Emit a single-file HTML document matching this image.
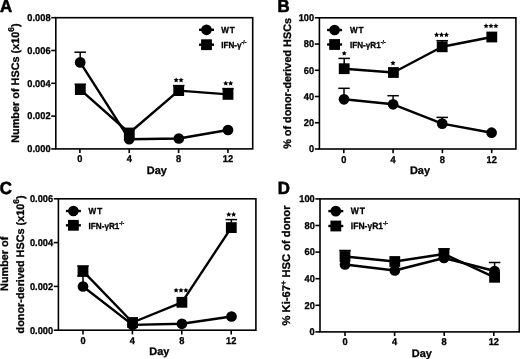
<!DOCTYPE html>
<html><head><meta charset="utf-8"><style>
html,body{margin:0;padding:0;background:#fff;overflow:hidden;}
svg{display:block;filter:blur(0.3px);}
text{stroke:#000;stroke-width:0.3;paint-order:stroke;}
</style></head><body>
<svg width="520" height="359" viewBox="0 0 520 359" font-family='"Liberation Sans", sans-serif' font-weight="bold" fill="#000">
<rect width="520" height="359" fill="#fff"/>
<rect x="55.8" y="17.7" width="196.9" height="131.2" fill="none" stroke="#000" stroke-width="1.6"/><line x1="51.2" y1="148.9" x2="55.8" y2="148.9" stroke="#000" stroke-width="1.6"/><text transform="translate(50.6,152.2) scale(0.94,1) skewX(0.3)" text-anchor="end" font-size="9.9">0.000</text><line x1="51.2" y1="116.1" x2="55.8" y2="116.1" stroke="#000" stroke-width="1.6"/><text transform="translate(50.6,119.4) scale(0.94,1) skewX(0.3)" text-anchor="end" font-size="9.9">0.002</text><line x1="51.2" y1="83.3" x2="55.8" y2="83.3" stroke="#000" stroke-width="1.6"/><text transform="translate(50.6,86.6) scale(0.94,1) skewX(0.3)" text-anchor="end" font-size="9.9">0.004</text><line x1="51.2" y1="50.5" x2="55.8" y2="50.5" stroke="#000" stroke-width="1.6"/><text transform="translate(50.6,53.8) scale(0.94,1) skewX(0.3)" text-anchor="end" font-size="9.9">0.006</text><line x1="51.2" y1="17.7" x2="55.8" y2="17.7" stroke="#000" stroke-width="1.6"/><text transform="translate(50.6,21.0) scale(0.94,1) skewX(0.3)" text-anchor="end" font-size="9.9">0.008</text><line x1="79.9" y1="148.9" x2="79.9" y2="153.1" stroke="#000" stroke-width="1.6"/><text transform="translate(79.9,162.4) scale(0.94,1) skewX(0.3)" text-anchor="middle" font-size="9.9">0</text><line x1="129.25" y1="148.9" x2="129.25" y2="153.1" stroke="#000" stroke-width="1.6"/><text transform="translate(129.25,162.4) scale(0.94,1) skewX(0.3)" text-anchor="middle" font-size="9.9">4</text><line x1="178.6" y1="148.9" x2="178.6" y2="153.1" stroke="#000" stroke-width="1.6"/><text transform="translate(178.6,162.4) scale(0.94,1) skewX(0.3)" text-anchor="middle" font-size="9.9">8</text><line x1="227.95" y1="148.9" x2="227.95" y2="153.1" stroke="#000" stroke-width="1.6"/><text transform="translate(227.95,162.4) scale(0.94,1) skewX(0.3)" text-anchor="middle" font-size="9.9">12</text><text transform="translate(156.9,174.0) skewX(0.3)" text-anchor="middle" font-size="11">Day</text><text transform="translate(0.0,12.1) scale(0.96,1) skewX(0.3)" style="stroke-width:0.6" font-size="17.6">A</text><text transform="translate(18.8,83.1) rotate(-90) skewX(0.3)" text-anchor="middle" font-size="10.87">Number of HSCs (x10<tspan dy="-5.2" font-size="8.4">6</tspan><tspan dy="5.2">)</tspan></text><polyline points="80.2,62.4 129.2,139.2 178.8,138.5 228,130" fill="none" stroke="#000" stroke-width="2.4" stroke-linejoin="round"/><polyline points="80.3,89.6 129.3,133 178.7,90.6 228,94.4" fill="none" stroke="#000" stroke-width="2.4" stroke-linejoin="round"/><line x1="80.2" y1="62.4" x2="80.2" y2="52.2" stroke="#000" stroke-width="1.5"/><line x1="74.45" y1="52.2" x2="85.95" y2="52.2" stroke="#000" stroke-width="1.5"/><line x1="80.3" y1="89.6" x2="80.3" y2="84.2" stroke="#000" stroke-width="1.5"/><line x1="74.55" y1="84.2" x2="86.05" y2="84.2" stroke="#000" stroke-width="1.5"/><line x1="178.7" y1="90.6" x2="178.7" y2="85.6" stroke="#000" stroke-width="1.5"/><line x1="172.95" y1="85.6" x2="184.45" y2="85.6" stroke="#000" stroke-width="1.5"/><line x1="228" y1="94.4" x2="228" y2="88.6" stroke="#000" stroke-width="1.5"/><line x1="222.25" y1="88.6" x2="233.75" y2="88.6" stroke="#000" stroke-width="1.5"/><circle cx="80.2" cy="62.4" r="5.35" fill="#000"/><circle cx="129.2" cy="139.2" r="5.35" fill="#000"/><circle cx="178.8" cy="138.5" r="5.35" fill="#000"/><circle cx="228" cy="130" r="5.35" fill="#000"/><rect x="74.9" y="84.2" width="10.8" height="10.8" fill="#000"/><rect x="123.9" y="127.6" width="10.8" height="10.8" fill="#000"/><rect x="173.3" y="85.2" width="10.8" height="10.8" fill="#000"/><rect x="222.6" y="89.0" width="10.8" height="10.8" fill="#000"/><polygon points="176.15,77.50 176.94,79.11 178.72,79.37 177.43,80.62 177.74,82.38 176.15,81.55 174.56,82.38 174.87,80.62 173.58,79.37 175.36,79.11" fill="#000"/><polygon points="181.05,77.50 181.84,79.11 183.62,79.37 182.33,80.62 182.64,82.38 181.05,81.55 179.46,82.38 179.77,80.62 178.48,79.37 180.26,79.11" fill="#000"/><polygon points="225.75,80.70 226.54,82.31 228.32,82.57 227.03,83.82 227.34,85.58 225.75,84.75 224.16,85.58 224.47,83.82 223.18,82.57 224.96,82.31" fill="#000"/><polygon points="230.65,80.70 231.44,82.31 233.22,82.57 231.93,83.82 232.24,85.58 230.65,84.75 229.06,85.58 229.37,83.82 228.08,82.57 229.86,82.31" fill="#000"/><line x1="199.0" y1="29.8" x2="214.0" y2="29.8" stroke="#000" stroke-width="2.4"/><circle cx="206.5" cy="29.8" r="5.35" fill="#000"/><line x1="199.0" y1="44.7" x2="214.0" y2="44.7" stroke="#000" stroke-width="2.4"/><rect x="201.1" y="39.3" width="10.8" height="10.8" fill="#000"/><text transform="translate(221.2,33.0) scale(0.94,1) skewX(0.3)" letter-spacing="1.0" font-size="8.7">WT</text><text transform="translate(221.2,47.9) scale(0.94,1) skewX(0.3)" font-size="8.7">IFN-γ<tspan dy="-3.8" font-size="5.5">-/-</tspan></text><rect x="319.4" y="17.8" width="196.5" height="131.2" fill="none" stroke="#000" stroke-width="1.6"/><line x1="314.8" y1="149.0" x2="319.4" y2="149.0" stroke="#000" stroke-width="1.6"/><text transform="translate(314.2,152.3) scale(0.94,1) skewX(0.3)" text-anchor="end" font-size="9.9">0</text><line x1="314.8" y1="122.76" x2="319.4" y2="122.76" stroke="#000" stroke-width="1.6"/><text transform="translate(314.2,126.06) scale(0.94,1) skewX(0.3)" text-anchor="end" font-size="9.9">20</text><line x1="314.8" y1="96.52" x2="319.4" y2="96.52" stroke="#000" stroke-width="1.6"/><text transform="translate(314.2,99.82) scale(0.94,1) skewX(0.3)" text-anchor="end" font-size="9.9">40</text><line x1="314.8" y1="70.28" x2="319.4" y2="70.28" stroke="#000" stroke-width="1.6"/><text transform="translate(314.2,73.58) scale(0.94,1) skewX(0.3)" text-anchor="end" font-size="9.9">60</text><line x1="314.8" y1="44.04" x2="319.4" y2="44.04" stroke="#000" stroke-width="1.6"/><text transform="translate(314.2,47.34) scale(0.94,1) skewX(0.3)" text-anchor="end" font-size="9.9">80</text><line x1="314.8" y1="17.8" x2="319.4" y2="17.8" stroke="#000" stroke-width="1.6"/><text transform="translate(314.2,21.1) scale(0.94,1) skewX(0.3)" text-anchor="end" font-size="9.9">100</text><line x1="343.8" y1="149.0" x2="343.8" y2="153.2" stroke="#000" stroke-width="1.6"/><text transform="translate(343.8,162.5) scale(0.94,1) skewX(0.3)" text-anchor="middle" font-size="9.9">0</text><line x1="393.1" y1="149.0" x2="393.1" y2="153.2" stroke="#000" stroke-width="1.6"/><text transform="translate(393.1,162.5) scale(0.94,1) skewX(0.3)" text-anchor="middle" font-size="9.9">4</text><line x1="442.4" y1="149.0" x2="442.4" y2="153.2" stroke="#000" stroke-width="1.6"/><text transform="translate(442.4,162.5) scale(0.94,1) skewX(0.3)" text-anchor="middle" font-size="9.9">8</text><line x1="491.7" y1="149.0" x2="491.7" y2="153.2" stroke="#000" stroke-width="1.6"/><text transform="translate(491.7,162.5) scale(0.94,1) skewX(0.3)" text-anchor="middle" font-size="9.9">12</text><text transform="translate(420,174.1) skewX(0.3)" text-anchor="middle" font-size="11">Day</text><text transform="translate(277.6,12.1) scale(0.96,1) skewX(0.3)" style="stroke-width:0.6" font-size="17.6">B</text><text transform="translate(290.5,83.4) rotate(-90) skewX(0.3)" text-anchor="middle" font-size="10.87">% of donor-derived HSCs</text><polyline points="344,99.3 393.1,104.3 442.2,123.6 491.6,132.7" fill="none" stroke="#000" stroke-width="2.4" stroke-linejoin="round"/><polyline points="344.2,68.7 393.4,72.5 442.2,46.8 491.8,37.0" fill="none" stroke="#000" stroke-width="2.4" stroke-linejoin="round"/><line x1="344" y1="99.3" x2="344" y2="88.3" stroke="#000" stroke-width="1.5"/><line x1="338.25" y1="88.3" x2="349.75" y2="88.3" stroke="#000" stroke-width="1.5"/><line x1="393.1" y1="104.3" x2="393.1" y2="95.7" stroke="#000" stroke-width="1.5"/><line x1="387.35" y1="95.7" x2="398.85" y2="95.7" stroke="#000" stroke-width="1.5"/><line x1="442.2" y1="123.6" x2="442.2" y2="117.4" stroke="#000" stroke-width="1.5"/><line x1="436.45" y1="117.4" x2="447.95" y2="117.4" stroke="#000" stroke-width="1.5"/><line x1="344.2" y1="68.7" x2="344.2" y2="58.4" stroke="#000" stroke-width="1.5"/><line x1="338.45" y1="58.4" x2="349.95" y2="58.4" stroke="#000" stroke-width="1.5"/><line x1="442.2" y1="46.8" x2="442.2" y2="40.7" stroke="#000" stroke-width="1.5"/><line x1="436.45" y1="40.7" x2="447.95" y2="40.7" stroke="#000" stroke-width="1.5"/><circle cx="344" cy="99.3" r="5.35" fill="#000"/><circle cx="393.1" cy="104.3" r="5.35" fill="#000"/><circle cx="442.2" cy="123.6" r="5.35" fill="#000"/><circle cx="491.6" cy="132.7" r="5.35" fill="#000"/><rect x="338.8" y="63.3" width="10.8" height="10.8" fill="#000"/><rect x="388.0" y="67.1" width="10.8" height="10.8" fill="#000"/><rect x="436.8" y="41.4" width="10.8" height="10.8" fill="#000"/><rect x="486.4" y="31.6" width="10.8" height="10.8" fill="#000"/><polygon points="344.20,50.70 344.99,52.31 346.77,52.57 345.48,53.82 345.79,55.58 344.20,54.75 342.61,55.58 342.92,53.82 341.63,52.57 343.41,52.31" fill="#000"/><polygon points="393.00,60.50 393.79,62.11 395.57,62.37 394.28,63.62 394.59,65.38 393.00,64.55 391.41,65.38 391.72,63.62 390.43,62.37 392.21,62.11" fill="#000"/><polygon points="436.60,32.10 437.39,33.71 439.17,33.97 437.88,35.22 438.19,36.98 436.60,36.15 435.01,36.98 435.32,35.22 434.03,33.97 435.81,33.71" fill="#000"/><polygon points="441.50,32.10 442.29,33.71 444.07,33.97 442.78,35.22 443.09,36.98 441.50,36.15 439.91,36.98 440.22,35.22 438.93,33.97 440.71,33.71" fill="#000"/><polygon points="446.40,32.10 447.19,33.71 448.97,33.97 447.68,35.22 447.99,36.98 446.40,36.15 444.81,36.98 445.12,35.22 443.83,33.97 445.61,33.71" fill="#000"/><polygon points="486.10,23.30 486.89,24.91 488.67,25.17 487.38,26.42 487.69,28.18 486.10,27.35 484.51,28.18 484.82,26.42 483.53,25.17 485.31,24.91" fill="#000"/><polygon points="491.00,23.30 491.79,24.91 493.57,25.17 492.28,26.42 492.59,28.18 491.00,27.35 489.41,28.18 489.72,26.42 488.43,25.17 490.21,24.91" fill="#000"/><polygon points="495.90,23.30 496.69,24.91 498.47,25.17 497.18,26.42 497.49,28.18 495.90,27.35 494.31,28.18 494.62,26.42 493.33,25.17 495.11,24.91" fill="#000"/><line x1="327.1" y1="30" x2="342.1" y2="30" stroke="#000" stroke-width="2.4"/><circle cx="334.6" cy="30" r="5.35" fill="#000"/><line x1="327.1" y1="44.5" x2="342.1" y2="44.5" stroke="#000" stroke-width="2.4"/><rect x="329.2" y="39.1" width="10.8" height="10.8" fill="#000"/><text transform="translate(349.9,33.2) scale(0.94,1) skewX(0.3)" letter-spacing="1.0" font-size="8.7">WT</text><text transform="translate(349.9,47.7) scale(0.94,1) skewX(0.3)" font-size="8.7">IFN-γR1<tspan dy="-3.8" font-size="5.5">-/-</tspan></text><rect x="58.4" y="198.8" width="197.5" height="131.4" fill="none" stroke="#000" stroke-width="1.6"/><line x1="53.8" y1="330.2" x2="58.4" y2="330.2" stroke="#000" stroke-width="1.6"/><text transform="translate(53.2,333.5) scale(0.94,1) skewX(0.3)" text-anchor="end" font-size="9.9">0.000</text><line x1="53.8" y1="286.4" x2="58.4" y2="286.4" stroke="#000" stroke-width="1.6"/><text transform="translate(53.2,289.7) scale(0.94,1) skewX(0.3)" text-anchor="end" font-size="9.9">0.002</text><line x1="53.8" y1="242.6" x2="58.4" y2="242.6" stroke="#000" stroke-width="1.6"/><text transform="translate(53.2,245.9) scale(0.94,1) skewX(0.3)" text-anchor="end" font-size="9.9">0.004</text><line x1="53.8" y1="198.8" x2="58.4" y2="198.8" stroke="#000" stroke-width="1.6"/><text transform="translate(53.2,202.1) scale(0.94,1) skewX(0.3)" text-anchor="end" font-size="9.9">0.006</text><line x1="83.0" y1="330.2" x2="83.0" y2="334.4" stroke="#000" stroke-width="1.6"/><text transform="translate(83.0,343.7) scale(0.94,1) skewX(0.3)" text-anchor="middle" font-size="9.9">0</text><line x1="132.4" y1="330.2" x2="132.4" y2="334.4" stroke="#000" stroke-width="1.6"/><text transform="translate(132.4,343.7) scale(0.94,1) skewX(0.3)" text-anchor="middle" font-size="9.9">4</text><line x1="181.8" y1="330.2" x2="181.8" y2="334.4" stroke="#000" stroke-width="1.6"/><text transform="translate(181.8,343.7) scale(0.94,1) skewX(0.3)" text-anchor="middle" font-size="9.9">8</text><line x1="231.2" y1="330.2" x2="231.2" y2="334.4" stroke="#000" stroke-width="1.6"/><text transform="translate(231.2,343.7) scale(0.94,1) skewX(0.3)" text-anchor="middle" font-size="9.9">12</text><text transform="translate(159.4,355.3) skewX(0.3)" text-anchor="middle" font-size="11">Day</text><text transform="translate(-0.2,194.3) scale(0.96,1) skewX(0.3)" style="stroke-width:0.6" font-size="17.6">C</text><text transform="translate(8.0,263.8) rotate(-90) skewX(0.3)" text-anchor="middle" font-size="10.87">Number of</text><text transform="translate(24.0,264.4) rotate(-90) skewX(0.3)" text-anchor="middle" font-size="10.87">donor-derived HSCs (x10<tspan dy="-5.2" font-size="8.4">6</tspan><tspan dy="5.2">)</tspan></text><polyline points="83,286.5 132.6,324.9 181.9,323.8 231.5,316.5" fill="none" stroke="#000" stroke-width="2.4" stroke-linejoin="round"/><polyline points="83,271.2 132.6,322.5 181.9,302.3 231.3,227.6" fill="none" stroke="#000" stroke-width="2.4" stroke-linejoin="round"/><line x1="83" y1="286.5" x2="83" y2="276" stroke="#000" stroke-width="1.5"/><line x1="77.25" y1="276" x2="88.75" y2="276" stroke="#000" stroke-width="1.5"/><line x1="83" y1="271.2" x2="83" y2="266" stroke="#000" stroke-width="1.5"/><line x1="77.25" y1="266" x2="88.75" y2="266" stroke="#000" stroke-width="1.5"/><line x1="231.3" y1="227.6" x2="231.3" y2="219.6" stroke="#000" stroke-width="1.5"/><line x1="225.55" y1="219.6" x2="237.05" y2="219.6" stroke="#000" stroke-width="1.5"/><circle cx="83" cy="286.5" r="5.35" fill="#000"/><circle cx="132.6" cy="324.9" r="5.35" fill="#000"/><circle cx="181.9" cy="323.8" r="5.35" fill="#000"/><circle cx="231.5" cy="316.5" r="5.35" fill="#000"/><rect x="77.6" y="265.8" width="10.8" height="10.8" fill="#000"/><rect x="127.2" y="317.1" width="10.8" height="10.8" fill="#000"/><rect x="176.5" y="296.9" width="10.8" height="10.8" fill="#000"/><rect x="225.9" y="222.2" width="10.8" height="10.8" fill="#000"/><polygon points="176.10,287.70 176.89,289.31 178.67,289.57 177.38,290.82 177.69,292.58 176.10,291.75 174.51,292.58 174.82,290.82 173.53,289.57 175.31,289.31" fill="#000"/><polygon points="181.00,287.70 181.79,289.31 183.57,289.57 182.28,290.82 182.59,292.58 181.00,291.75 179.41,292.58 179.72,290.82 178.43,289.57 180.21,289.31" fill="#000"/><polygon points="185.90,287.70 186.69,289.31 188.47,289.57 187.18,290.82 187.49,292.58 185.90,291.75 184.31,292.58 184.62,290.82 183.33,289.57 185.11,289.31" fill="#000"/><polygon points="228.75,211.80 229.54,213.41 231.32,213.67 230.03,214.92 230.34,216.68 228.75,215.85 227.16,216.68 227.47,214.92 226.18,213.67 227.96,213.41" fill="#000"/><polygon points="233.65,211.80 234.44,213.41 236.22,213.67 234.93,214.92 235.24,216.68 233.65,215.85 232.06,216.68 232.37,214.92 231.08,213.67 232.86,213.41" fill="#000"/><line x1="65.9" y1="211" x2="80.9" y2="211" stroke="#000" stroke-width="2.4"/><circle cx="73.4" cy="211" r="5.35" fill="#000"/><line x1="65.9" y1="225.3" x2="80.9" y2="225.3" stroke="#000" stroke-width="2.4"/><rect x="68.0" y="219.9" width="10.8" height="10.8" fill="#000"/><text transform="translate(88.5,214.2) scale(0.94,1) skewX(0.3)" letter-spacing="1.0" font-size="8.7">WT</text><text transform="translate(88.5,228.5) scale(0.94,1) skewX(0.3)" font-size="8.7">IFN-γR1<tspan dy="-3.8" font-size="5.5">-/-</tspan></text><rect x="320" y="198.9" width="199.3" height="133" fill="none" stroke="#000" stroke-width="1.6"/><line x1="315.4" y1="331.9" x2="320" y2="331.9" stroke="#000" stroke-width="1.6"/><text transform="translate(314.8,335.2) scale(0.94,1) skewX(0.3)" text-anchor="end" font-size="9.9">0</text><line x1="315.4" y1="305.3" x2="320" y2="305.3" stroke="#000" stroke-width="1.6"/><text transform="translate(314.8,308.6) scale(0.94,1) skewX(0.3)" text-anchor="end" font-size="9.9">20</text><line x1="315.4" y1="278.7" x2="320" y2="278.7" stroke="#000" stroke-width="1.6"/><text transform="translate(314.8,282.0) scale(0.94,1) skewX(0.3)" text-anchor="end" font-size="9.9">40</text><line x1="315.4" y1="252.1" x2="320" y2="252.1" stroke="#000" stroke-width="1.6"/><text transform="translate(314.8,255.4) scale(0.94,1) skewX(0.3)" text-anchor="end" font-size="9.9">60</text><line x1="315.4" y1="225.5" x2="320" y2="225.5" stroke="#000" stroke-width="1.6"/><text transform="translate(314.8,228.8) scale(0.94,1) skewX(0.3)" text-anchor="end" font-size="9.9">80</text><line x1="315.4" y1="198.9" x2="320" y2="198.9" stroke="#000" stroke-width="1.6"/><text transform="translate(314.8,202.2) scale(0.94,1) skewX(0.3)" text-anchor="end" font-size="9.9">100</text><line x1="345.0" y1="331.9" x2="345.0" y2="336.1" stroke="#000" stroke-width="1.6"/><text transform="translate(345.0,345.4) scale(0.94,1) skewX(0.3)" text-anchor="middle" font-size="9.9">0</text><line x1="394.6" y1="331.9" x2="394.6" y2="336.1" stroke="#000" stroke-width="1.6"/><text transform="translate(394.6,345.4) scale(0.94,1) skewX(0.3)" text-anchor="middle" font-size="9.9">4</text><line x1="444.2" y1="331.9" x2="444.2" y2="336.1" stroke="#000" stroke-width="1.6"/><text transform="translate(444.2,345.4) scale(0.94,1) skewX(0.3)" text-anchor="middle" font-size="9.9">8</text><line x1="493.8" y1="331.9" x2="493.8" y2="336.1" stroke="#000" stroke-width="1.6"/><text transform="translate(493.8,345.4) scale(0.94,1) skewX(0.3)" text-anchor="middle" font-size="9.9">12</text><text transform="translate(421.9,357.0) skewX(0.3)" text-anchor="middle" font-size="11">Day</text><text transform="translate(277.7,194.3) scale(0.96,1) skewX(0.3)" style="stroke-width:0.6" font-size="17.6">D</text><text transform="translate(289.6,265.5) rotate(-90) skewX(0.3)" text-anchor="middle" font-size="11.2">% Ki-67<tspan dy="-3.9" font-size="7.5">+</tspan><tspan dy="3.9"> HSC of donor</tspan></text><polyline points="345,264.5 394.8,270.5 444,258 494.6,271" fill="none" stroke="#000" stroke-width="2.4" stroke-linejoin="round"/><polyline points="345,256.5 394.8,261.5 444,254 494.6,277.3" fill="none" stroke="#000" stroke-width="2.4" stroke-linejoin="round"/><line x1="494.6" y1="271" x2="494.6" y2="262.5" stroke="#000" stroke-width="1.5"/><line x1="488.85" y1="262.5" x2="500.35" y2="262.5" stroke="#000" stroke-width="1.5"/><line x1="345" y1="256.5" x2="345" y2="250.5" stroke="#000" stroke-width="1.5"/><line x1="339.25" y1="250.5" x2="350.75" y2="250.5" stroke="#000" stroke-width="1.5"/><line x1="444" y1="254" x2="444" y2="248.8" stroke="#000" stroke-width="1.5"/><line x1="438.25" y1="248.8" x2="449.75" y2="248.8" stroke="#000" stroke-width="1.5"/><circle cx="345" cy="264.5" r="5.35" fill="#000"/><circle cx="394.8" cy="270.5" r="5.35" fill="#000"/><circle cx="444" cy="258" r="5.35" fill="#000"/><circle cx="494.6" cy="271" r="5.35" fill="#000"/><rect x="339.6" y="251.1" width="10.8" height="10.8" fill="#000"/><rect x="389.4" y="256.1" width="10.8" height="10.8" fill="#000"/><rect x="438.6" y="248.6" width="10.8" height="10.8" fill="#000"/><rect x="489.2" y="271.9" width="10.8" height="10.8" fill="#000"/><line x1="328.3" y1="211.1" x2="343.3" y2="211.1" stroke="#000" stroke-width="2.4"/><circle cx="335.8" cy="211.1" r="5.35" fill="#000"/><line x1="328.3" y1="226" x2="343.3" y2="226" stroke="#000" stroke-width="2.4"/><rect x="330.4" y="220.6" width="10.8" height="10.8" fill="#000"/><text transform="translate(350.8,214.3) scale(0.94,1) skewX(0.3)" letter-spacing="1.0" font-size="9.1">WT</text><text transform="translate(350.8,229.2) scale(0.94,1) skewX(0.3)" font-size="9.1">IFN-γR1<tspan dy="-3.8" font-size="5.5">-/-</tspan></text>
</svg>
</body></html>
